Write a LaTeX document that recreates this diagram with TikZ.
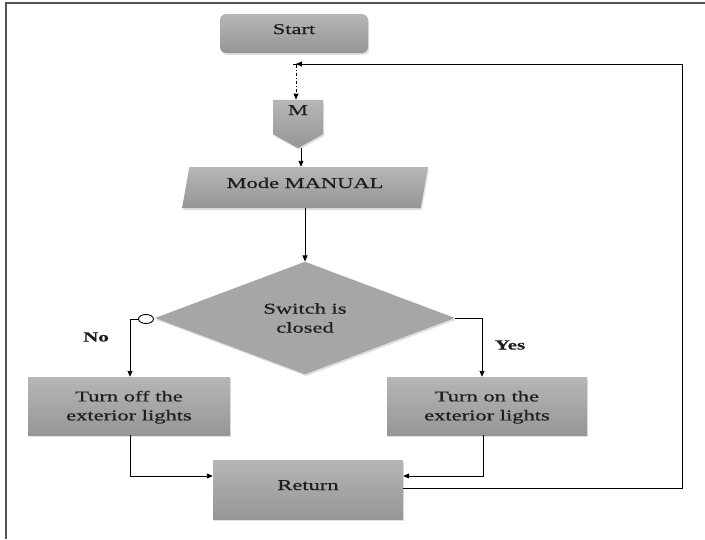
\documentclass[tikz,border=0pt]{standalone}
\usepackage{fontspec}
\setmainfont[FakeStretch=1.5, FakeBold=0.5]{Liberation Serif}
\usetikzlibrary{shapes.geometric,shapes.symbols,arrows.meta,shadows}

\definecolor{boxtop}{HTML}{B6B6B6}
\definecolor{boxbot}{HTML}{969696}
\definecolor{decfill}{HTML}{A6A6A6}
\definecolor{framecol}{HTML}{555555}
\definecolor{inkcol}{HTML}{1E1E1E}

% a strut that sets the position of a two-line label in its box
\newcommand{\downstrut}{\rule{0pt}{13pt}}

\tikzset{
  every node/.style={font=\fontsize{15}{19}\selectfont, text=inkcol},
  shadowed/.style={drop shadow={opacity=0.25, shadow xshift=1.2pt, shadow yshift=-1.8pt}},
  procbox/.style={shadowed, draw=none, top color=boxtop, bottom color=boxbot,
    inner sep=0pt, align=center},
  startbox/.style={procbox, rounded corners=6pt, minimum width=148pt, minimum height=39pt,
    text height=8pt, text depth=7pt},
  offpage/.style={procbox, signal, signal to=south, signal pointer angle=122,
    minimum width=50pt, minimum height=40pt},
  iobox/.style={procbox, trapezium, trapezium stretches=true,
    trapezium left angle=72, trapezium right angle=108,
    minimum width=246pt, minimum height=41pt, text height=8pt, text depth=7pt},
  decision/.style={shadowed, diamond, draw=none, fill=decfill, inner sep=0pt, align=center,
    minimum width=300pt, minimum height=100pt},
  actbox/.style={procbox, minimum height=58pt},
  flow/.style={draw=black, line width=0.9pt, -{Triangle[length=6pt, width=5pt]}},
  dotflow/.style={draw=black, line width=0.9pt, dash pattern=on 3pt off 2pt on 1pt off 2pt,
    {Bar[width=6pt, line width=0.9pt]}-{Triangle[length=6pt, width=5pt]}},
  branchlabel/.style={font=\fontsize{14}{16}\selectfont\bfseries}
}

\begin{document}
\begin{tikzpicture}[x=1pt, y=-1pt]
  \useasboundingbox (0,0) rectangle (705,539);

  % page frame
  \draw[framecol, line width=2pt] (6,539) -- (6,3) -- (705,3);

  % nodes
  \node[startbox] (start) at (294,33.5) {Start};
  \node[offpage] (m) at (298,117) {\raisebox{7pt}[10pt][0pt]{M}};
  \node[iobox] (mode) at (305,187.5) {Mode MANUAL};
  \node[decision] (sw) at (305,318) {Switch is\\closed};
  \node[actbox, minimum width=202pt] (off) at (129,406)
    {\downstrut Turn off the\\exterior lights};
  \node[actbox, minimum width=200pt] (on) at (487,406)
    {\downstrut Turn on the\\exterior lights};
  \node[procbox, minimum width=190pt, minimum height=59pt, text height=8pt, text depth=7pt]
    (ret) at (308,489.5) {Return};

  % junction on the main line and the corner of the loop
  \coordinate (joint) at (296,64);
  \coordinate (loopc) at (682,64);

  % connectors
  \draw[dotflow] (joint) -- (joint |- m.north);
  \draw[flow] ([xshift=3pt]m.south) -- ([xshift=3pt]m.south |- mode.north);
  \draw[flow] (sw.north |- mode.south) -- (sw.north);

  % "No" branch with its negation circle
  \node[draw=black, line width=0.9pt, fill=white, ellipse, minimum width=15pt,
    minimum height=9pt, inner sep=0pt] (neg) at (146,319) {};
  \coordinate (nocorner) at (130,319);
  \draw[flow] (neg.west) -- (nocorner) -- (nocorner |- off.north);
  \node[branchlabel] (nolab) at (96,337) {No};

  % "Yes" branch
  \coordinate (yescorner) at (482,318);
  \draw[flow] (sw.east) -- (yescorner) -- (yescorner |- on.north);
  \node[branchlabel] (yeslab) at (510,345) {Yes};

  % both actions lead to Return
  \draw[flow] ([xshift=1pt]off.south) |- ([yshift=13.5pt]ret.west);
  \draw[flow] ([xshift=-4pt]on.south) |- ([yshift=13.5pt]ret.east);

  % loop back to the top
  \draw[flow] ([yshift=1.5pt]ret.east) -| (loopc) -- (joint);
\end{tikzpicture}
\end{document}
